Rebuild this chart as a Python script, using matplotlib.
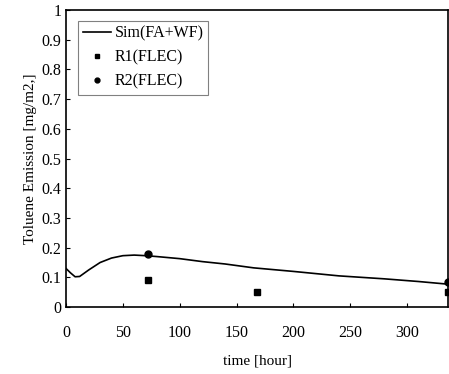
import numpy as np
import matplotlib
matplotlib.use("Agg")
from matplotlib import pyplot as plt

plt.rcParams['font.family'] = ['Liberation Serif', 'DejaVu Serif']

# simulated curve
sim_t = [0, 4, 8, 12, 20, 30, 40, 50, 60, 70, 80, 100, 120, 140, 165, 200, 240, 280, 310, 336]
sim_v = [0.13, 0.115, 0.102, 0.103, 0.125, 0.15, 0.165, 0.173, 0.175, 0.173, 0.17, 0.163, 0.153, 0.145, 0.132, 0.12, 0.105, 0.095, 0.086, 0.077]

r1_t = [72, 168, 336]
r1_v = [0.09, 0.05, 0.05]
r2_t = [72, 336]
r2_v = [0.18, 0.085]

xticks = [0, 50, 100, 150, 200, 250, 300]
yticks = [0, 0.1, 0.2, 0.3, 0.4, 0.5, 0.6, 0.7, 0.8, 0.9, 1]
ylabels = ['0', '0.1', '0.2', '0.3', '0.4', '0.5', '0.6', '0.7', '0.8', '0.9', '1']

fig = plt.figure(figsize=(4.49, 3.74), dpi=100)
ax = fig.add_axes([0.147, 0.179, 0.851, 0.794])

ax.plot(sim_t, sim_v, color='black', lw=1.2, label='Sim(FA+WF)')
ax.plot(r1_t, r1_v, 's', color='black', ms=5, label='R1(FLEC)', clip_on=False)
ax.plot(r2_t, r2_v, 'o', color='black', ms=5, label='R2(FLEC)', clip_on=False)

ax.set_xlim(0, 336)
ax.set_ylim(0, 1)
ax.set_xticks(xticks)
ax.set_yticks(yticks)
ax.set_yticklabels(ylabels)
ax.tick_params(direction='in', length=3, labelsize=11.5, width=0.8)
ax.tick_params(axis='x', pad=13)
ax.set_xlabel('time [hour]', fontsize=11, labelpad=10)
ax.set_ylabel('Toluene Emission [mg/m2,]', fontsize=11, labelpad=3)
for s in ax.spines.values():
    s.set_linewidth(1.2)

leg = ax.legend(loc='upper left', bbox_to_anchor=(0.01, 0.99), fontsize=11.5,
                fancybox=False, edgecolor='gray', framealpha=1, markerscale=0.7,
                handlelength=1.8, handletextpad=0.2, borderpad=0.3, labelspacing=0.5)
leg.get_frame().set_linewidth(0.8)

fig.savefig('out.png', dpi=100)
